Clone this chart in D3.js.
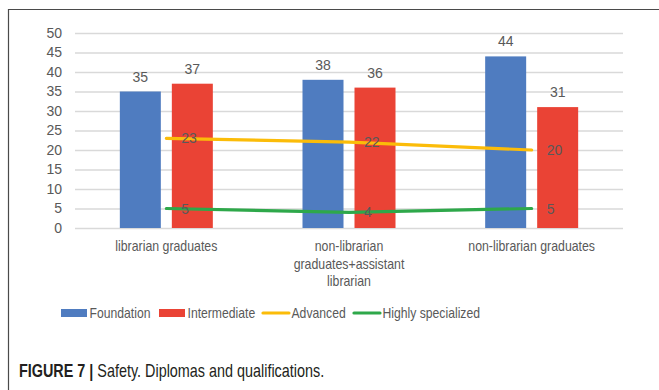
<!DOCTYPE html>
<html>
<head>
<meta charset="utf-8">
<script src="https://cdn.jsdelivr.net/npm/d3@7"></script>
<style>
  body { margin: 0; background: #fff; }
  svg { display: block; }
  .tick-label, .value-label { font-family: "Liberation Sans", Arial, sans-serif; font-size: 14px; fill: #595959; }
  .cat-label, .legend-label { font-family: "Liberation Sans", Arial, sans-serif; font-size: 14.5px; fill: #595959; }
  .caption { font-family: "Liberation Sans", Arial, sans-serif; font-size: 18px; fill: #231f20; }
</style>
</head>
<body>
<div class="chart"></div>
<script>
const categories = ['librarian graduates', 'non-librarian graduates+assistant librarian', 'non-librarian graduates'];
const categoryLines = [['librarian graduates'], ['non-librarian', 'graduates+assistant', 'librarian'], ['non-librarian graduates']];
const foundation = [35, 38, 44];
const intermediate = [37, 36, 31];
const advanced = [23, 22, 20];
const highlySpecialized = [5, 4, 5];
const yTicks = [0, 5, 10, 15, 20, 25, 30, 35, 40, 45, 50];
const barSeries = ['Foundation', 'Intermediate'];
const legendItems = ['Foundation', 'Intermediate', 'Advanced', 'Highly specialized'];

const colors = {
    Foundation: '#4f7cc0',
    Intermediate: '#ea4335',
    Advanced: '#fbbc09',
    'Highly specialized': '#2ea84a',
};

// the original uses a narrow face; squeeze text horizontally to match
function condense(selection, k) {
    selection.each(function () {
        const len = this.getComputedTextLength();
        d3.select(this)
            .attr('textLength', len * k)
            .attr('lengthAdjust', 'spacingAndGlyphs');
    });
}

class DiplomaChart {
    constructor() {
        this.width = 659;
        this.height = 390;
        this.plot = { left: 75, right: 623, top: 33, bottom: 228 };

        this.appendSVG();
        this.drawFrame();
        this.scaleX();
        this.scaleY();
        this.addYAxis();
        this.addBars();
        this.addLine('Advanced', advanced);
        this.addLine('Highly specialized', highlySpecialized);
        this.addXLabels();
        this.addLegend();
        this.addCaption();
    }

    appendSVG() {
        this.svg = d3.select('.chart')
            .append('svg')
            .attr('width', this.width)
            .attr('height', this.height);
    }

    drawFrame() {
        this.svg.append('path')
            .attr('d', `M8.5,${this.height} V9.5 H${this.width}`)
            .attr('fill', 'none')
            .attr('stroke', '#4a4a4a')
            .attr('stroke-width', 1.2);
    }

    scaleX() {
        this.x = d3.scaleBand()
            .domain(categories)
            .range([this.plot.left, this.plot.right]);
        // bars inside each category, centred on the category middle
        this.xInner = d3.scaleBand()
            .domain(barSeries)
            .range([-46.5, 46.5])
            .paddingInner(11 / 52);
    }

    scaleY() {
        this.y = d3.scaleLinear()
            .domain([0, 50])
            .range([this.plot.bottom, this.plot.top]);
    }

    addYAxis() {
        const axis = this.svg.append('g')
            .attr('class', 'y-axis')
            .attr('transform', `translate(${this.plot.left},0)`)
            .call(d3.axisLeft(this.y)
                .tickValues(yTicks)
                .tickSize(-(this.plot.right - this.plot.left))
                .tickPadding(13));

        axis.select('.domain').remove();
        axis.selectAll('.tick line')
            .attr('stroke', '#d9d9d9')
            .attr('stroke-width', 1.3);
        axis.selectAll('.tick text')
            .attr('class', 'tick-label')
            .attr('font-size', null)
            .attr('font-family', null)
            .attr('fill', null);
    }

    addBars() {
        const rows = [];
        categories.forEach((c, i) => {
            rows.push({ cat: c, series: 'Foundation', value: foundation[i] });
            rows.push({ cat: c, series: 'Intermediate', value: intermediate[i] });
        });

        const cx = (d) => this.x(d.cat) + this.x.bandwidth() / 2 + this.xInner(d.series);

        this.svg.append('g')
            .selectAll('.bar')
            .data(rows)
            .enter()
            .append('rect')
            .attr('class', 'bar')
            .attr('x', cx)
            .attr('y', (d) => this.y(d.value))
            .attr('width', this.xInner.bandwidth())
            .attr('height', (d) => this.y(0) - this.y(d.value))
            .attr('fill', (d) => colors[d.series]);

        this.svg.append('g')
            .selectAll('.value-label')
            .data(rows)
            .enter()
            .append('text')
            .attr('class', 'value-label')
            .attr('x', (d) => cx(d) + this.xInner.bandwidth() / 2)
            .attr('y', (d) => this.y(d.value) - 10)
            .attr('text-anchor', 'middle')
            .text((d) => d.value);
    }

    addLine(name, values) {
        const pts = values.map((v, i) => ({ cat: categories[i], value: v }));
        const line = d3.line()
            .x((d) => this.x(d.cat) + this.x.bandwidth() / 2)
            .y((d) => this.y(d.value));

        this.svg.append('path')
            .datum(pts)
            .attr('d', line)
            .attr('fill', 'none')
            .attr('stroke', colors[name])
            .attr('stroke-width', 3.2)
            .attr('stroke-linecap', 'round');

        this.svg.append('g')
            .selectAll('text')
            .data(pts)
            .enter()
            .append('text')
            .attr('class', 'value-label')
            .attr('x', (d) => this.x(d.cat) + this.x.bandwidth() / 2 + 15)
            .attr('y', (d) => this.y(d.value))
            .attr('dy', '0.36em')
            .text((d) => d.value);
    }

    addXLabels() {
        const labels = this.svg.append('g')
            .selectAll('text')
            .data(categories)
            .enter()
            .append('text')
            .attr('class', 'cat-label')
            .attr('text-anchor', 'middle')
            .attr('x', (d) => this.x(d) + this.x.bandwidth() / 2)
            .attr('y', 251);

        const lines = labels.selectAll('tspan')
            .data((d, i) => categoryLines[i])
            .enter()
            .append('tspan')
            .attr('x', function () { return d3.select(this.parentNode).attr('x'); })
            .attr('dy', (d, i) => (i === 0 ? 0 : 17.5))
            .text((d) => d);
        condense(lines, 0.85);
    }

    addLegend() {
        const items = [
            { name: 'Foundation', type: 'bar', x: 61 },
            { name: 'Intermediate', type: 'bar', x: 159 },
            { name: 'Advanced', type: 'line', x: 263 },
            { name: 'Highly specialized', type: 'line', x: 354 },
        ];
        const cy = 313;
        const g = this.svg.append('g').attr('class', 'legend');

        items.forEach((item) => {
            if (item.type === 'bar') {
                g.append('rect')
                    .attr('x', item.x)
                    .attr('y', cy - 4)
                    .attr('width', 26)
                    .attr('height', 8)
                    .attr('fill', colors[item.name]);
            } else {
                g.append('line')
                    .attr('x1', item.x)
                    .attr('x2', item.x + 26)
                    .attr('y1', cy)
                    .attr('y2', cy)
                    .attr('stroke', colors[item.name])
                    .attr('stroke-width', 3.2)
                    .attr('stroke-linecap', 'round');
            }
            const label = g.append('text')
                .attr('class', 'legend-label')
                .attr('x', item.x + 28.5)
                .attr('y', cy)
                .attr('dy', '0.36em')
                .text(item.name);
            condense(label, 0.84);
        });
    }

    addCaption() {
        // one text element, squeezed as a whole to mimic the narrow caption face
        const t = this.svg.append('text')
            .attr('class', 'caption')
            .attr('transform', 'translate(19,377) scale(0.8,1)');
        t.append('tspan').attr('font-weight', 'bold').text('FIGURE 7 |');
        t.append('tspan').attr('dx', 5).text('Safety. Diplomas and qualifications.');
    }
}

new DiplomaChart();
</script>
</body>
</html>
